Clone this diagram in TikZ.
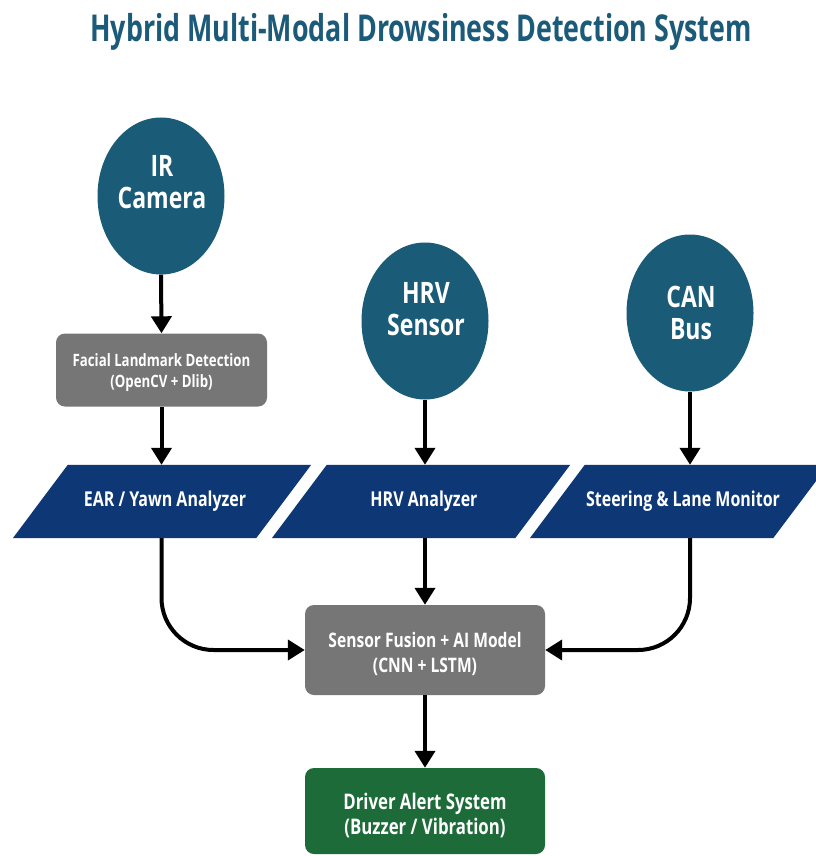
\documentclass[tikz,border=0pt]{standalone}
\usepackage{fontspec}
\setmainfont{Open Sans}[FakeStretch=0.78]
\newfontfamily\titlefont{Open Sans}[FakeStretch=0.725]
\usetikzlibrary{arrows.meta,shapes.geometric}
\definecolor{titleblue}{HTML}{1B5A78}
\definecolor{circblue}{HTML}{1A5B77}
\definecolor{navy}{HTML}{0D3775}
\definecolor{boxgray}{HTML}{767676}
\definecolor{alertgreen}{HTML}{1E6B3A}
\pgfdeclarelayer{bgwhite}
\pgfdeclarelayer{shapes}
\pgfsetlayers{bgwhite,shapes,main}
\tikzset{
  sensor/.style={ellipse, fill=circblue, minimum width=127pt, minimum height=157pt, inner sep=0pt},
  sensortext/.style={text=white, inner sep=0pt, align=center, font=\bfseries\fontsize{29.5}{32}\selectfont},
  graybox/.style={rectangle, rounded corners=9pt, fill=boxgray, text=white, inner sep=0pt, align=center},
  para/.style={rectangle, minimum width=243pt, minimum height=73pt, inner sep=0pt},
  paratext/.style={text=white, inner sep=0pt, font=\bfseries\fontsize{20.5}{24}\selectfont},
  conn/.style={line width=4pt, -{Triangle[width=20pt,length=17pt]}}
}
\newcommand{\slantfill}[1]{%
  \fill[navy] ([xshift=-27.5pt]#1.south west) -- ([xshift=-27.5pt]#1.south east) -- ([xshift=27.5pt]#1.north east) -- ([xshift=27.5pt]#1.north west) -- cycle;}
\begin{document}
\begin{tikzpicture}[x=1pt,y=-1pt]
\begin{pgfonlayer}{bgwhite}
\fill[white] (0,0) rectangle (815,856);
\end{pgfonlayer}
\useasboundingbox (0,0) rectangle (815,856);
\node[text=titleblue, font=\titlefont\bfseries\fontsize{37}{40}\selectfont] (title) at (421,32) {Hybrid Multi-Modal Drowsiness Detection System};

\node[sensor] (ir) at (161,196) {};
\node[sensortext] (irt) at (162,182) {IR\\Camera};
\node[sensor] (hrv) at (425,321) {};
\node[sensortext] (hrvt) at (426,309) {HRV\\Sensor};
\node[sensor] (can) at (690,313) {};
\node[sensortext] (cant) at (691,313) {CAN\\Bus};

\node[graybox, minimum width=211pt, minimum height=73pt] (facial) at (161.5,370) {};
\node[text=white, align=center, inner sep=0pt, font=\bfseries\fontsize{17}{21}\selectfont] (facialt) at (161.5,372.5) {Facial Landmark Detection\\(OpenCV + Dlib)};

\node[para] (ear) at (162,501.5) {};
\node[para] (hrva) at (421,501.5) {};
\node[para] (steer) at (679,501.5) {};
\node[paratext] (eart) at (165,501) {EAR / Yawn Analyzer};
\node[paratext] (hrvat) at (424,501) {HRV Analyzer};
\node[paratext] (steert) at (683,501) {Steering \& Lane Monitor};
\begin{pgfonlayer}{shapes}
\slantfill{ear}
\slantfill{hrva}
\slantfill{steer}
\end{pgfonlayer}

\node[graybox, minimum width=240pt, minimum height=90pt] (fusion) at (425,650) {};
\node[text=white, align=center, inner sep=0pt, font=\bfseries\fontsize{20}{25}\selectfont] (fusiont) at (425,654) {Sensor Fusion + AI Model\\(CNN + LSTM)};
\node[graybox, fill=alertgreen, minimum width=240pt, minimum height=86pt] (alert) at (425,811) {};
\node[text=white, align=center, inner sep=0pt, font=\bfseries\fontsize{21.5}{25}\selectfont] (alertt) at (425,816) {Driver Alert System\\(Buzzer / Vibration)};

\draw[conn] (ir.south) -- (facial.north);
\draw[conn] (facial.south) -- (facial.south |- ear.north);
\draw[conn] (hrv.south) -- (hrv.south |- hrva.north);
\draw[conn] (can.south) -- (can.south |- steer.north);
\draw[conn, rounded corners=52pt] (facial.south |- ear.south) |- (fusion.west);
\draw[conn, rounded corners=52pt] (can.south |- steer.south) |- (fusion.east);
\draw[conn] (hrv.south |- hrva.south) -- (fusion.north);
\draw[conn] (fusion.south) -- (alert.north);
\end{tikzpicture}
\end{document}
